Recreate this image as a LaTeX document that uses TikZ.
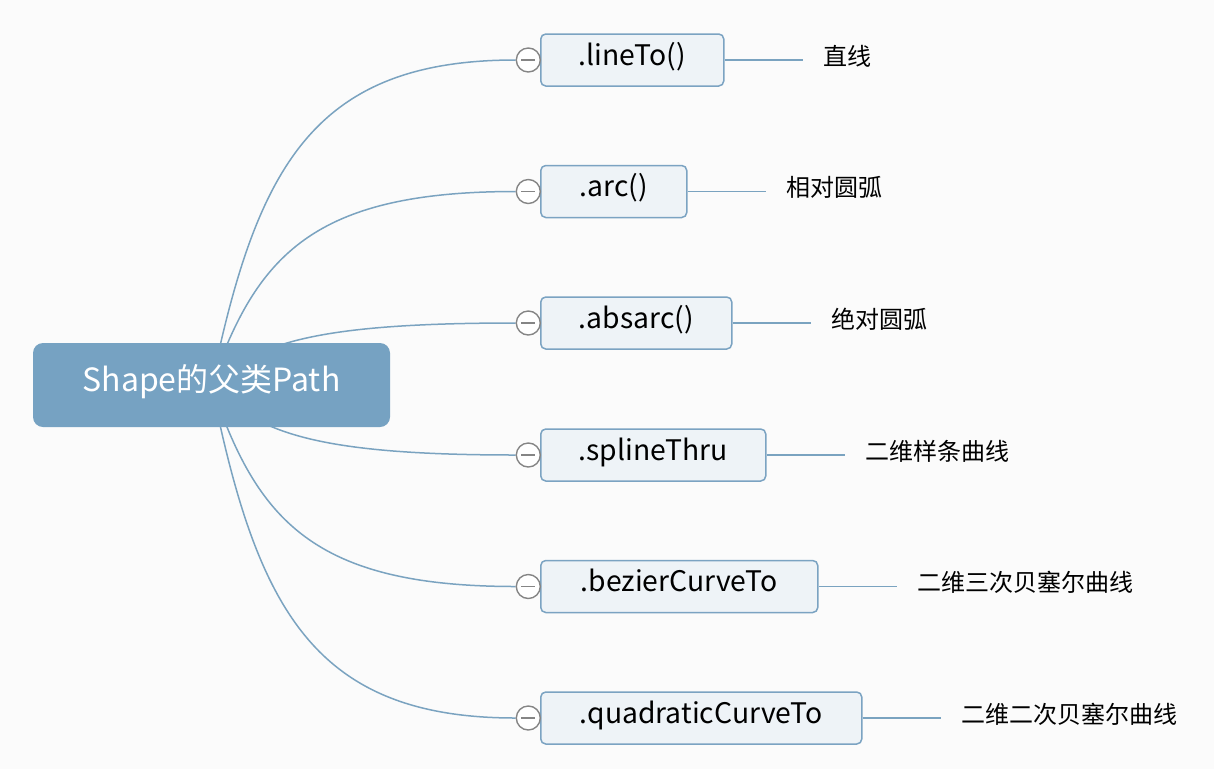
\documentclass[tikz,border=0pt]{standalone}
\usepackage{fontspec}
\setmainfont{Noto Sans CJK SC}
\usetikzlibrary{calc,backgrounds}
\definecolor{bgc}{HTML}{FBFBFB}
\definecolor{mainfill}{HTML}{76A2C2}
\definecolor{boxfill}{HTML}{EEF3F7}
\definecolor{boxline}{HTML}{7BA3C2}
\definecolor{linkc}{HTML}{7AA3C0}
\definecolor{knobc}{HTML}{858585}
\tikzset{
  x=1pt, y=-1pt,
  maintopic/.style={fill=mainfill, rounded corners=10pt, minimum width=357pt, minimum height=84pt,
    text=white, font=\fontsize{32}{36}\selectfont, inner sep=0pt, text height=18pt, text depth=6pt},
  subtopic/.style={draw=boxline, line width=1.5pt, fill=boxfill, rounded corners=5pt,
    minimum height=52pt, anchor=west, inner sep=0pt, font=\fontsize{28.3}{32}\selectfont,
    text height=15pt, text depth=5pt},
  leaflabel/.style={anchor=west, inner xsep=20pt, inner ysep=0pt, font=\fontsize{24}{28}\selectfont},
  knob/.style={circle, draw=knobc, line width=1.4pt, fill=white, minimum size=24pt, inner sep=0pt,
    path picture={\draw[knobc, line width=1.4pt] ([xshift=-7pt]path picture bounding box.center) -- ([xshift=7pt]path picture bounding box.center);}},
  link/.style={draw=linkc, line width=1.5pt},
}
\begin{document}
\begin{tikzpicture}
\useasboundingbox (0,0) rectangle (1214,769);

\node[maintopic] (m) at (211.5,385) {Shape的父类Path};

% subtopics
\node[subtopic, minimum width=183pt] (c1) at (540,60) {.lineTo()};
\node[subtopic, minimum width=146pt] (c2) at (540,191.5) {.arc()};
\node[subtopic, minimum width=191pt] (c3) at (540,323) {.absarc()};
\node[subtopic, minimum width=225pt] (c4) at (540,455) {.splineThru};
\node[subtopic, minimum width=277pt] (c5) at (540,586.5) {.bezierCurveTo};
\node[subtopic, minimum width=321pt] (c6) at (540,718) {.quadraticCurveTo};

% knobs
\foreach \i in {1,...,6} {
  \node[knob, anchor=east] (k\i) at ([xshift=1pt]c\i.west) {};
}

% leaf labels
\node[leaflabel] (l1) at (803,56) {直线};
\node[leaflabel] (l2) at (766,187.5) {相对圆弧};
\node[leaflabel] (l3) at (811,319) {绝对圆弧};
\node[leaflabel] (l4) at (845,451) {二维样条曲线};
\node[leaflabel] (l5) at (897,582.5) {二维三次贝塞尔曲线};
\node[leaflabel] (l6) at (941,714) {二维二次贝塞尔曲线};

\foreach \i in {1,...,6} {
  \draw[link] (c\i.east) -- (c\i.east -| l\i.west);
}

% background and curved links
\begin{pgfonlayer}{background}
\fill[bgc] (0,0) rectangle (1214,769);
\foreach \i in {1,...,6} {
  \draw[link] (m.center) .. controls ($(m.center)!0.667!(m.center |- k\i.west)+(45,0)$) and ($(k\i.west)+(-203,0)$) .. (k\i.west);
}
\end{pgfonlayer}
\end{tikzpicture}
\end{document}
